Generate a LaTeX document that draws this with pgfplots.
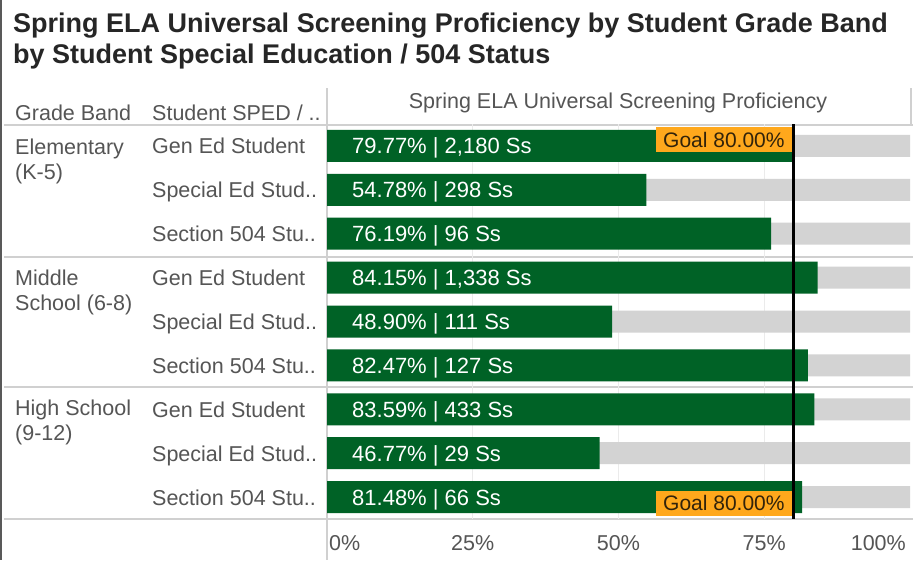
\documentclass[border=0pt]{standalone}
\usepackage{fontspec}
\setmainfont{Liberation Sans}
\usepackage{pgfplots}
\pgfplotsset{compat=1.18}
\definecolor{bargreen}{RGB}{0,98,38}
\definecolor{bggray}{RGB}{211,211,211}
\definecolor{goalorange}{RGB}{255,168,28}
\definecolor{goaltext}{RGB}{50,35,10}
\definecolor{txtgray}{RGB}{85,85,85}
\definecolor{sepgray}{RGB}{208,208,208}
\definecolor{titlecol}{RGB}{38,38,38}

\newcommand{\lbl}{\fontsize{21.5}{25}\selectfont}

\begin{document}
\begin{tikzpicture}[
  rowlbl/.style={anchor=base west, inner sep=0, text=txtgray, font=\lbl, xshift=-175pt, yshift=-8pt},
  barlbl/.style={anchor=base west, inner sep=0, text=white, font=\fontsize{22}{26}\selectfont, xshift=25pt, yshift=-8pt},
  ticklbl/.style={inner sep=0, text=txtgray, font=\lbl, yshift=-31pt},
]
\begin{scope}[x=1pt,y=-1pt]
\path[use as bounding box] (0,0) rectangle (913,560);
\fill[white] (0,0) rectangle (913,560);
\draw[black!65, line width=1.6pt] (0.8,0) -- (0.8,560);

% title
\node[anchor=base west, inner sep=0, text=titlecol, font=\fontsize{27}{31}\selectfont\bfseries] at (13,32)
  {Spring ELA Universal Screening Proficiency by Student Grade Band};
\node[anchor=base west, inner sep=0, text=titlecol, font=\fontsize{27}{31}\selectfont\bfseries] at (13,63)
  {by Student Special Education / 504 Status};

% header row
\node[anchor=base west, inner sep=0, text=txtgray, font=\lbl] at (15,120) {Grade Band};
\node[anchor=base west, inner sep=0, text=txtgray, font=\lbl] at (152,120) {Student SPED / ..};
\node[anchor=base, inner sep=0, text=txtgray, font=\lbl] at (618,108) {Spring ELA Universal Screening Proficiency};

% separators
\draw[sepgray, line width=1.5pt] (4,125) -- (913,125);
\draw[sepgray, line width=1.5pt] (4,257) -- (913,257);
\draw[sepgray, line width=1.5pt] (4,387) -- (913,387);
\draw[sepgray, line width=1.5pt] (4,519) -- (913,519);
\draw[sepgray, line width=1.2pt] (327,88) -- (327,560);
\draw[sepgray, line width=1.2pt] (911,88) -- (911,125);

% grade band labels
\node[anchor=base west, inner sep=0, text=txtgray, font=\lbl] at (15,154) {Elementary};
\node[anchor=base west, inner sep=0, text=txtgray, font=\lbl] at (15,179) {(K-5)};
\node[anchor=base west, inner sep=0, text=txtgray, font=\lbl] at (15,285) {Middle};
\node[anchor=base west, inner sep=0, text=txtgray, font=\lbl] at (15,310) {School (6-8)};
\node[anchor=base west, inner sep=0, text=txtgray, font=\lbl] at (15,415) {High School};
\node[anchor=base west, inner sep=0, text=txtgray, font=\lbl] at (15,440) {(9-12)};
\end{scope}

\begin{axis}[
    at={(327pt,-124pt)}, anchor=north west,
    scale only axis, width=583pt, height=395pt,
    xmin=0, xmax=100, ymin=-0.5, ymax=8.5,
    y dir=reverse,
    axis line style={draw=none},
    xtick={25,50,75}, xticklabels={}, ytick=\empty,
    major tick length=0pt,
    xmajorgrids, grid style={black!8, line width=1pt},
    clip=false,
]
% background (100%)
\addplot[xbar, bar width=22pt, bar shift=0pt, fill=bggray, draw=none] coordinates {
    (100,0) (100,1) (100,2) (100,3) (100,4) (100,5) (100,6) (100,7) (100,8)
};
% proficiency
\addplot[xbar, bar width=32pt, bar shift=0pt, fill=bargreen, draw=none] coordinates {
    (79.77,0) (54.78,1) (76.19,2)
    (84.15,3) (48.90,4) (82.47,5)
    (83.59,6) (46.77,7) (81.48,8)
};

% row labels
\node[rowlbl] at (axis cs:0,0) {Gen Ed Student};
\node[rowlbl] at (axis cs:0,1) {Special Ed Stud..};
\node[rowlbl] at (axis cs:0,2) {Section 504 Stu..};
\node[rowlbl] at (axis cs:0,3) {Gen Ed Student};
\node[rowlbl] at (axis cs:0,4) {Special Ed Stud..};
\node[rowlbl] at (axis cs:0,5) {Section 504 Stu..};
\node[rowlbl] at (axis cs:0,6) {Gen Ed Student};
\node[rowlbl] at (axis cs:0,7) {Special Ed Stud..};
\node[rowlbl] at (axis cs:0,8) {Section 504 Stu..};

% bar labels
\node[barlbl] at (axis cs:0,0) {79.77\% | 2,180 Ss};
\node[barlbl] at (axis cs:0,1) {54.78\% | 298 Ss};
\node[barlbl] at (axis cs:0,2) {76.19\% | 96 Ss};
\node[barlbl] at (axis cs:0,3) {84.15\% | 1,338 Ss};
\node[barlbl] at (axis cs:0,4) {48.90\% | 111 Ss};
\node[barlbl] at (axis cs:0,5) {82.47\% | 127 Ss};
\node[barlbl] at (axis cs:0,6) {83.59\% | 433 Ss};
\node[barlbl] at (axis cs:0,7) {46.77\% | 29 Ss};
\node[barlbl] at (axis cs:0,8) {81.48\% | 66 Ss};

% goal line
\draw[black, line width=2.6pt] (axis cs:80,-0.5) -- (axis cs:80,8.5);
\node[fill=goalorange, text=goaltext, anchor=north east, inner sep=0, minimum width=136pt, minimum height=25pt,
      font=\fontsize{21}{25}\selectfont, xshift=-1.3pt, yshift=-3pt] at (axis cs:80,-0.5) {Goal 80.00\%};
\node[fill=goalorange, text=goaltext, anchor=south east, inner sep=0, minimum width=136pt, minimum height=25pt,
      font=\fontsize{21}{25}\selectfont, xshift=-1.3pt, yshift=3pt] at (axis cs:80,8.5) {Goal 80.00\%};

% x tick labels
\node[ticklbl, anchor=base west, xshift=2pt] at (axis cs:0,8.5) {0\%};
\node[ticklbl, anchor=base] at (axis cs:25,8.5) {25\%};
\node[ticklbl, anchor=base] at (axis cs:50,8.5) {50\%};
\node[ticklbl, anchor=base] at (axis cs:75,8.5) {75\%};
\node[ticklbl, anchor=base east, xshift=-4pt] at (axis cs:100,8.5) {100\%};
\end{axis}
\end{tikzpicture}
\end{document}
